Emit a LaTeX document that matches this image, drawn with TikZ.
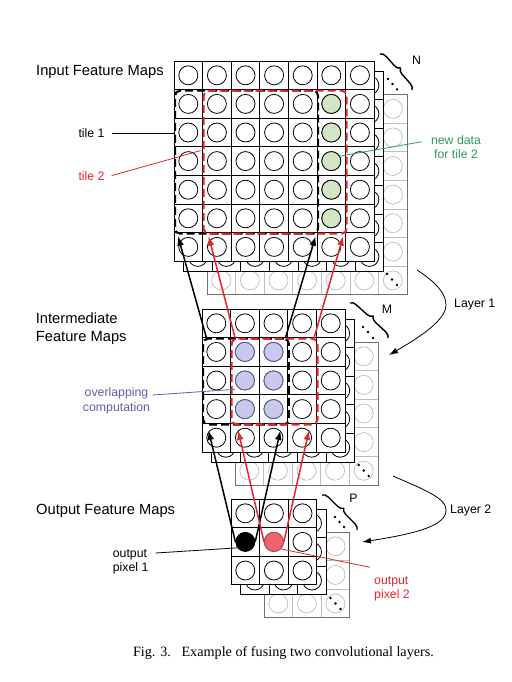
\documentclass[tikz,border=0pt]{standalone}
\usepackage{fontspec}
\setmainfont{Liberation Sans}
\newfontfamily\capfont{Liberation Serif}
\usetikzlibrary{arrows.meta,decorations.pathreplacing,calc}
\definecolor{tred}{HTML}{E3262F}
\definecolor{tgreen}{HTML}{2E9E58}
\definecolor{gfill}{HTML}{D2E5C4}
\definecolor{tblue}{HTML}{5F5FA8}
\definecolor{bfill}{HTML}{C9C9EC}
\definecolor{bline}{HTML}{5A5A96}
\definecolor{rfill}{HTML}{EE636C}
\definecolor{ltgray}{HTML}{BDBDBD}
\definecolor{mdgray}{HTML}{707070}
\newcommand{\cellsz}{28.6}
\newcommand{\fmlayer}[4]{%
  \foreach \rw in {0,...,#3}{\foreach \cl in {0,...,#3}{
    \filldraw[#4cell] ({#1+\cl*\cellsz},{#2+\rw*\cellsz}) rectangle ++(\cellsz,\cellsz);
    \draw[#4circ] ({#1+(\cl+0.5)*\cellsz},{#2+(\rw+0.5)*\cellsz}) circle[radius=9.5pt];
  }}}
\newcommand{\fmfront}[4]{%
  \foreach \rw in {0,...,#3}{\foreach \cl in {0,...,#3}{
    \filldraw[frontcell] ({#1+\cl*\cellsz},{#2+\rw*\cellsz}) rectangle ++(\cellsz,\cellsz);
    \node[fcirc] (#4-\rw-\cl) at ({#1+(\cl+0.5)*\cellsz},{#2+(\rw+0.5)*\cellsz}) {};
  }}}
\begin{document}
\begin{tikzpicture}[x=1pt,y=-1pt,
  farcell/.style={fill=white,draw=ltgray,line width=0.7pt},
  farcirc/.style={draw=ltgray,line width=0.7pt},
  midcell/.style={fill=white,draw=black,line width=0.8pt},
  midcirc/.style={draw=black,line width=0.8pt},
  frontcell/.style={fill=white,draw=black,line width=0.9pt},
  fcirc/.style={circle,draw=black,fill=white,line width=0.8pt,minimum size=19pt,inner sep=0pt},
  tileblk/.style={draw=black,line width=2.1pt,dash pattern=on 8pt off 4pt,rounded corners=5pt,inner sep=0pt,anchor=north west},
  tilered/.style={draw=tred,line width=2.1pt,dash pattern=on 8pt off 4pt,dash phase=6pt,rounded corners=5pt,inner sep=0pt,anchor=north west},
  blkarr/.style={draw=black,line width=1.5pt,-{Latex[length=9.5pt,width=7pt]}},
  redarr/.style={draw=tred,line width=1.5pt,-{Latex[length=9.5pt,width=7pt]}},
  lyrarr/.style={draw=black,line width=0.8pt,-{Latex[length=9pt,width=6pt]}},
  brc/.style={draw=black,line width=1.4pt,decorate,decoration={brace,amplitude=6pt}},
  dotm/.style={fill=black},
  lbl/.style={font=\fontsize{14.7}{18}\selectfont,inner sep=0pt},
  ann/.style={font=\fontsize{12.3}{14.5}\selectfont,inner sep=0pt},
  leader/.style={line width=0.8pt}
]
\useasboundingbox (0,0) rectangle (511,682);
\fill[white] (0,0) rectangle (511,682);

% ---------- Input feature maps ----------
\fmlayer{207}{94.5}{6}{far}
\draw[mdgray,line width=0.8pt] (207,94.5) rectangle ++(200.2,200.2);
\fmlayer{183.5}{71}{6}{mid}
\fmfront{174}{61}{6}{I}
\foreach \rw in {1,...,5}{\filldraw[fill=gfill,draw=black,line width=0.8pt] (I-\rw-5) circle[radius=9.5pt];}
\node[tileblk,minimum width=143pt,minimum height=143pt] (iT1) at (174,89.6) {};
\node[tilered,minimum width=143pt,minimum height=143pt] (iT2) at (202.6,89.6) {};
\foreach \p in {(388,79),(392.5,84),(397,89.3),(387,274),(392,279.5),(397,285)}{\fill[dotm] \p circle[radius=1.3pt];}

% ---------- Intermediate feature maps ----------
\fmlayer{235}{342}{4}{far}
\draw[mdgray,line width=0.8pt] (235,342) rectangle ++(143,143);
\fmlayer{211.5}{319}{4}{mid}
\fmfront{202}{309}{4}{M}
\foreach \rw in {1,...,3}{\foreach \cl in {1,2}{\filldraw[fill=bfill,draw=bline,line width=0.8pt] (M-\rw-\cl) circle[radius=9.5pt];}}
\node[tileblk,minimum width=85.8pt,minimum height=85.8pt] (mT1) at (202,337.6) {};
\node[tilered,minimum width=85.8pt,minimum height=85.8pt] (mT2) at (230.6,337.6) {};
\foreach \p in {(363,327),(368,332),(373,338),(358.7,465),(363.7,470.5),(368.7,476)}{\fill[dotm] \p circle[radius=1.3pt];}

% ---------- Output feature maps ----------
\fmlayer{264}{532}{2}{far}
\draw[mdgray,line width=0.8pt] (264,532) rectangle ++(85.8,85.8);
\fmlayer{240.5}{509}{2}{mid}
\fmfront{231}{499}{2}{O}
\fill[black] (O-1-0) circle[radius=9.7pt];
\filldraw[fill=rfill,draw=rfill!75!black,line width=0.8pt] (O-1-1) circle[radius=9.5pt];
\foreach \p in {(335,517),(339.5,522),(344,527),(330.5,598),(335.5,603.5),(340.5,609)}{\fill[dotm] \p circle[radius=1.3pt];}

% ---------- braces ----------
\draw[brc] (380,54) -- (412,90);
\node[ann] (tN) at (416.5,60) {N};
\draw[brc] (350,303) -- (388,338);
\node[ann] (tM) at (387,309) {M};
\draw[brc] (322,495) -- (357,530);
\node[ann] (tP) at (353.5,498) {P};

% ---------- arrows intermediate -> input ----------
\draw[blkarr] ($(mT1.north west)+(4.5,0.5)$) -- ($(iT1.south west)+(4,1.5)$);
\draw[blkarr] ($(mT1.north east)+(-4.5,0.5)$) -- ($(iT1.south east)+(-3.5,1.5)$);
\draw[redarr] ($(mT2.north west)+(4.5,0.5)$) -- ($(iT2.south west)+(6,1.5)$);
\draw[redarr] ($(mT2.north east)+(-4.5,0.5)$) -- ($(iT2.south east)+(-4.5,1.5)$);

% ---------- arrows output -> intermediate ----------
\draw[blkarr] (O-1-0.west) -- ($(mT1.south west)+(6.5,5)$);
\draw[blkarr] (O-1-0.east) -- ($(mT1.south east)+(-9.5,5)$);
\draw[redarr] (O-1-1.west) -- ($(mT2.south west)+(7.5,5)$);
\draw[redarr] (O-1-1.east) -- ($(mT2.south east)+(-9.5,5)$);

% ---------- titles ----------
\node[lbl,anchor=base west] (tIn) at (36,75.7) {Input Feature Maps};
\node[lbl,anchor=west,align=left] (tMid) at (35.7,329) {Intermediate\\Feature Maps};
\node[lbl,anchor=base west] (tOut) at (36,514) {Output Feature Maps};

% ---------- annotations ----------
\node[ann,anchor=base west] (tT1) at (78.3,137.3) {tile 1};
\draw[leader] ([xshift=7pt]tT1.east) -- (tT1.east -| iT1.west);
\node[ann,anchor=base west,text=tred] (tT2) at (78.3,180) {tile 2};
\draw[leader,tred] ([xshift=7pt]tT2.east) -- ($(iT2.north west)+(-2,61)$);
\node[ann,align=center,text=tgreen] (tNew) at (456,147) {new data\\for tile 2};
\draw[leader,tgreen] ($(tNew.north west)+(-9,6.7)$) -- (I-3-5.30);
\node[ann,align=center,text=tblue] (tOver) at (116.5,400.8) {overlapping\\computation};
\draw[leader,tblue] ($(tOver.east)+(2.5,-5.8)$) -- ($(mT2.north west)+(4.5,51.7)$);
\node[ann,align=left,anchor=west] (tO1) at (112.7,561.7) {output\\pixel 1};
\draw[leader] ($(tO1.north east)+(7,4)$) -- (O-1-0.217);
\node[ann,align=left,anchor=west,text=tred] (tO2) at (374,589) {output\\pixel 2};
\draw[leader,tred] ($(tO2.north west)+(-4,-9)$) -- (O-1-1.-45);

% ---------- layer arrows ----------
\node[ann,anchor=base west] (tL1) at (454,307) {Layer 1};
\coordinate (l1s) at (417,270);
\coordinate (l1e) at (389,355);
\draw[lyrarr] (l1s) .. controls (437,283) and (446,294) .. (446,305) .. controls (446,320) and (420,337) .. (l1e);
\node[ann,anchor=base west] (tL2) at (450,513.5) {Layer 2};
\coordinate (l2s) at (393,476);
\coordinate (l2e) at (362,542);
\draw[lyrarr] (l2s) .. controls (425,490) and (446,498) .. (446,510) .. controls (446,525) and (420,533) .. (l2e);

% ---------- caption ----------
\node[font=\capfont\fontsize{14.2}{16}\selectfont,anchor=base,inner sep=0pt] (cap) at (283.5,656) {Fig. 3.\hspace{0.75em}Example of fusing two convolutional layers.};
\end{tikzpicture}
\end{document}
